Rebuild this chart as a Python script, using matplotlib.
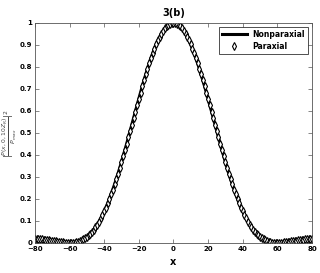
import matplotlib
matplotlib.use("Agg")
import matplotlib.pyplot as plt
import numpy as np

# normalised power profile, x = 0..80 (the curve is symmetric)
x_half = list(range(0, 81))
p_half = [1.0000, 0.9990, 0.9959, 0.9909, 0.9838, 0.9748, 0.9639, 0.9511, 0.9365, 0.9202,
          0.9023, 0.8828, 0.8619, 0.8396, 0.8161, 0.7914, 0.7657, 0.7391, 0.7118, 0.6838,
          0.6553, 0.6263, 0.5971, 0.5678, 0.5384, 0.5091, 0.4799, 0.4511, 0.4227, 0.3948,
          0.3675, 0.3407, 0.3149, 0.2900, 0.2660, 0.2429, 0.2208, 0.1997, 0.1797, 0.1610,
          0.1432, 0.1266, 0.1113, 0.0970, 0.0837, 0.0719, 0.0609, 0.0509, 0.0423, 0.0344,
          0.0274, 0.0216, 0.0165, 0.0121, 0.0086, 0.0058, 0.0035, 0.0019, 0.0008, 0.0002,
          0.0000, 0.0002, 0.0006, 0.0014, 0.0023, 0.0034, 0.0046, 0.0058, 0.0072, 0.0086,
          0.0098, 0.0111, 0.0124, 0.0134, 0.0143, 0.0153, 0.0159, 0.0165, 0.0170, 0.0172,
          0.0173]

x = [-v for v in x_half[:0:-1]] + x_half
nonparaxial = p_half[:0:-1] + p_half
paraxial = list(nonparaxial)   # the two curves coincide in the figure

xticks = [-80, -60, -40, -20, 0, 20, 40, 60, 80]
yticks = [0, 0.1, 0.2, 0.3, 0.4, 0.5, 0.6, 0.7, 0.8, 0.9, 1]
yticklabels = ['0', '0.1', '0.2', '0.3', '0.4', '0.5', '0.6', '0.7', '0.8', '0.9', '1']

fig = plt.figure(figsize=(3.2, 2.73), dpi=100)
ax = fig.add_axes([0.109, 0.11, 0.866, 0.806])

ax.plot(x, nonparaxial, 'k-', lw=2.2, label='Nonparaxial')
ax.plot(x, paraxial, 'kd', ms=3.6, mfc='white', mew=0.8, label='Paraxial')

ax.set_xlim(-80, 80)
ax.set_ylim(0, 1)
ax.set_xticks(xticks)
ax.set_yticks(yticks)
ax.set_yticklabels(yticklabels)
ax.tick_params(direction='in', top=True, right=True, length=3, width=0.5,
               labelsize=5, pad=2, color='#555555')
for lab in ax.get_xticklabels() + ax.get_yticklabels():
    lab.set_fontweight('bold')
for s in ax.spines.values():
    s.set_linewidth(0.6)
    s.set_color('#555555')

ax.set_title('3(b)', fontsize=7, fontweight='bold', pad=5)
ax.set_xlabel('x', fontsize=7, fontweight='bold', labelpad=4)
ax.set_ylabel(r'$|\frac{P(x,0,10Z_R)}{P_{max}}|^2$', fontsize=6.2, color='#444444')
ax.yaxis.set_label_coords(-0.058, 0.5)

leg = ax.legend(loc='upper right', fontsize=5.5, frameon=True, fancybox=False,
                edgecolor='black', borderaxespad=0.5, handlelength=3.2,
                borderpad=0.4, labelspacing=0.4)
leg.get_frame().set_linewidth(0.6)
for t in leg.get_texts():
    t.set_fontweight('bold')

fig.savefig('out.png', dpi=100)
